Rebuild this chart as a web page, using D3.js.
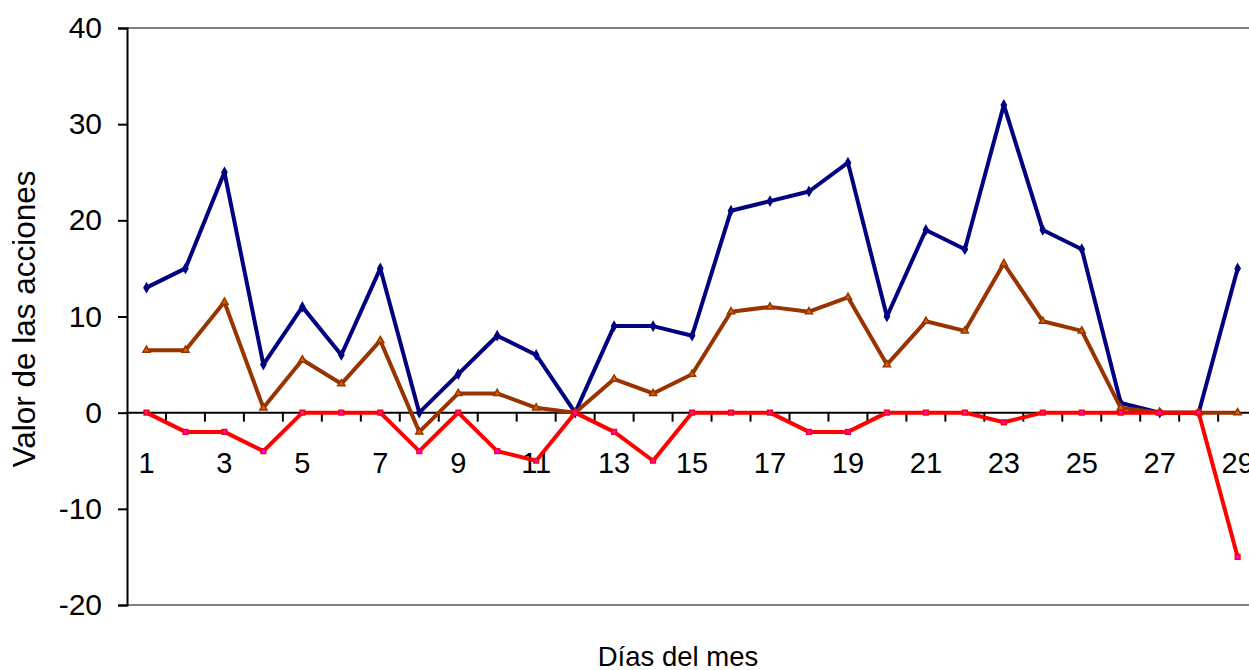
<!DOCTYPE html>
<html><head><meta charset="utf-8">
<script src="https://cdn.jsdelivr.net/npm/d3@7/dist/d3.min.js"></script>
<style>body{margin:0;background:#fff;}svg{display:block;}</style>
</head><body>
<svg id="c" width="1249" height="670"></svg>
<script>
const days = d3.range(1, 30);
const seriesBlue  = [13,15,25,5,11,6,15,0,4,8,6,0,9,9,8,21,22,23,26,10,19,17,32,19,17,1,0,0,15];
const seriesBrown = [6.5,6.5,11.5,0.5,5.5,3,7.5,-2,2,2,0.5,0,3.5,2,4,10.5,11,10.5,12,5,9.5,8.5,15.5,9.5,8.5,0.5,0,0,0];
const seriesRed   = [0,-2,-2,-4,0,0,0,-4,0,-4,-5,0,-2,-5,0,0,0,-2,-2,0,0,0,-1,0,0,0,0,0,-15];
const yTicks = [-20,-10,0,10,20,30,40];
const xLabels = [1,3,5,7,9,11,13,15,17,19,21,23,25,27,29];

const svg = d3.select("#c");
const pLeft = 127, pTop = 28, pBottom = 605;
const band = 38.97;
const pRight = pLeft + band * days.length;
const font = "Liberation Sans, Arial, sans-serif";

const x = d3.scaleBand().domain(days).range([pLeft, pRight]).paddingInner(0).paddingOuter(0);
const y = d3.scaleLinear().domain([-20, 40]).range([pBottom, pTop]);
const cx = d => x(d) + x.bandwidth() / 2;

// plot border top/bottom
svg.append("line").attr("x1", pLeft).attr("x2", 1249).attr("y1", y(40)).attr("y2", y(40)).attr("stroke", "#808080").attr("stroke-width", 2);
svg.append("line").attr("x1", pLeft).attr("x2", 1249).attr("y1", y(-20)).attr("y2", y(-20)).attr("stroke", "#808080").attr("stroke-width", 2);

// y axis
const yAxis = d3.axisLeft(y).tickValues(yTicks).tickSize(9).tickPadding(16).tickFormat(d3.format("d"));
const gy = svg.append("g").attr("transform", `translate(${pLeft},0)`).call(yAxis);
gy.select(".domain").attr("stroke", "#000").attr("stroke-width", 2);
gy.selectAll(".tick line").attr("stroke", "#000").attr("stroke-width", 2);
gy.selectAll(".tick text").attr("font-family", font).attr("font-size", 30).attr("fill", "#000").text(d => d < 0 ? "-" + Math.abs(d) : d);

// x axis at y=0
const gx = svg.append("g").attr("transform", `translate(0,${y(0)})`);
gx.append("line").attr("x1", pLeft).attr("x2", 1249).attr("stroke", "#000").attr("stroke-width", 2);
gx.selectAll("line.t").data(d3.range(1, days.length + 1)).join("line").attr("class", "t")
  .attr("x1", i => pLeft + i * x.bandwidth()).attr("x2", i => pLeft + i * x.bandwidth())
  .attr("y1", 0).attr("y2", 9).attr("stroke", "#000").attr("stroke-width", 2);
gx.selectAll("text").data(xLabels).join("text")
  .attr("x", d => cx(d)).attr("y", 60).attr("text-anchor", "middle")
  .attr("font-family", font).attr("font-size", 29).attr("fill", "#000").text(d => d);

const line = d3.line().x((d, i) => cx(days[i])).y(d => y(d));

function drawSeries(vals, color, shape, fill) {
  svg.append("path").datum(vals).attr("d", line).attr("fill", "none")
    .attr("stroke", color).attr("stroke-width", 4).attr("stroke-linejoin", "round");
  const sym = d3.symbol().type(shape).size(22);
  svg.append("g").selectAll("path").data(vals).join("path")
    .attr("transform", (d, i) => `translate(${cx(days[i])},${y(d)})`)
    .attr("d", sym).attr("fill", fill).attr("stroke", color).attr("stroke-width", 1.5);
}
drawSeries(seriesBlue, "#000080", d3.symbolDiamond, "#000080");
drawSeries(seriesBrown, "#993300", d3.symbolTriangle, "#cc6600");
drawSeries(seriesRed, "#ff0000", d3.symbolSquare, "#ff00ff");

// axis titles
svg.append("text").attr("x", 678).attr("y", 666).attr("text-anchor", "middle")
  .attr("font-family", font).attr("font-size", 27.5).attr("fill", "#000").text("Días del mes");
svg.append("text").attr("transform", `translate(35,319) rotate(-90)`).attr("text-anchor", "middle")
  .attr("font-family", font).attr("font-size", 31.5).attr("fill", "#000").text("Valor de las acciones");
</script>
</body></html>
